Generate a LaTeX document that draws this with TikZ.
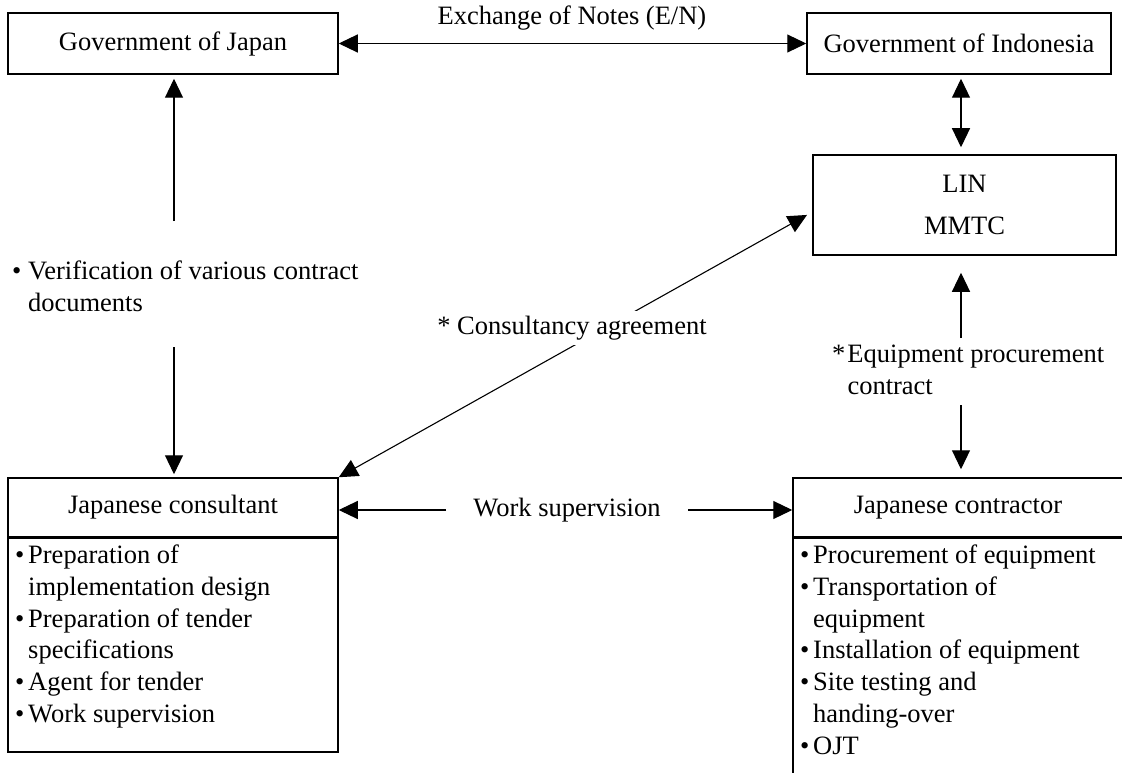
\documentclass[tikz,border=0pt]{standalone}
\usepackage{fontspec}
\setmainfont{Liberation Serif}
\usetikzlibrary{arrows.meta}
\newcommand{\bi}{\makebox[13pt][l]{\textbullet}}
\newcommand{\hg}{\makebox[13pt]{}}
\begin{document}
\begin{tikzpicture}[x=1pt,y=-1pt,
  >={Triangle[length=19pt,width=18pt]},
  box/.style={draw, line width=1.5pt, inner sep=0pt},
  con/.style={line width=1.1pt},
  txt/.style={inner sep=0pt, align=left, anchor=north west},
  font=\fontsize{26.5}{31.7}\selectfont]
\useasboundingbox (0,0) rectangle (1122,773);
\clip (0,0) rectangle (1122,773);

% boxes
\node[box, minimum width=330pt, minimum height=61pt] (gj) at (173,43.5) {Government of Japan};
\node[box, minimum width=304pt, minimum height=61pt] (gi) at (959,43.5) {Government of Indonesia};
\node[box, minimum width=303pt, minimum height=100pt, align=center] (lin) at (964.5,205) {LIN\\[10pt]MMTC};
\node[box, minimum width=330pt, minimum height=214pt, anchor=north] (consb) at (173,537) {};
\node[box, minimum width=330pt, minimum height=59pt] (consh) at (173,507.5) {Japanese consultant};
\node[box, minimum width=330pt, minimum height=260pt, anchor=north] (contb) at (958,537) {};
\node[box, minimum width=330pt, minimum height=59pt] (conth) at (958,507.5) {Japanese contractor};

% lists
\node[txt] (consl) at (15,545) {\bi Preparation of\\\hg implementation design\\\bi Preparation of tender\\\hg specifications\\\bi Agent for tender\\\bi Work supervision};
\node[txt] (contl) at (800,545) {\bi Procurement of equipment\\\bi Transportation of\\\hg equipment\\\bi Installation of equipment\\\bi Site testing and\\\hg handing-over\\\bi OJT};

% labels
\node[inner sep=0pt] (en) at (572,18) {Exchange of Notes (E/N)};
\node[txt] (verif) at (12,261) {\textbullet\ Verification of various contract\\\makebox[15.9pt]{}documents};
\node[txt] (equip) at (832,345) {*\hspace{2pt}Equipment procurement\\\makebox[15.3pt]{}contract};
\node[inner sep=0pt] (ws) at (567,510) {Work supervision};

% connectors
\draw[con,<->] (gj.east) -- (gi.west);
\coordinate (v1) at (174,221);
\draw[con,->,shorten >=4pt] (v1) -- (v1 |- gj.south);
\coordinate (v2) at (174,347);
\draw[con,->,shorten >=3pt] (v2) -- (v2 |- consh.north);
\coordinate (x1) at (961,0);
\draw[con,<->,shorten <=4pt,shorten >=7pt] (x1 |- gi.south) -- (x1 |- lin.north);
\coordinate (e1) at (961,338);
\draw[con,->,shorten >=17pt] (e1) -- (e1 |- lin.south);
\coordinate (e2) at (961,405);
\draw[con,->,shorten >=8pt] (e2) -- (e2 |- conth.north);
\draw[con,<->,shorten <=6pt] ([yshift=-7pt]lin.west) -- (consh.north east);
\node[fill=white, inner sep=5pt] (ca) at (572,328) {* Consultancy agreement};
\coordinate (w1) at (446,510);
\draw[con,->] (w1) -- (w1 -| consh.east);
\coordinate (w2) at (688,510);
\draw[con,->] (w2) -- (w2 -| conth.west);
\end{tikzpicture}
\end{document}
